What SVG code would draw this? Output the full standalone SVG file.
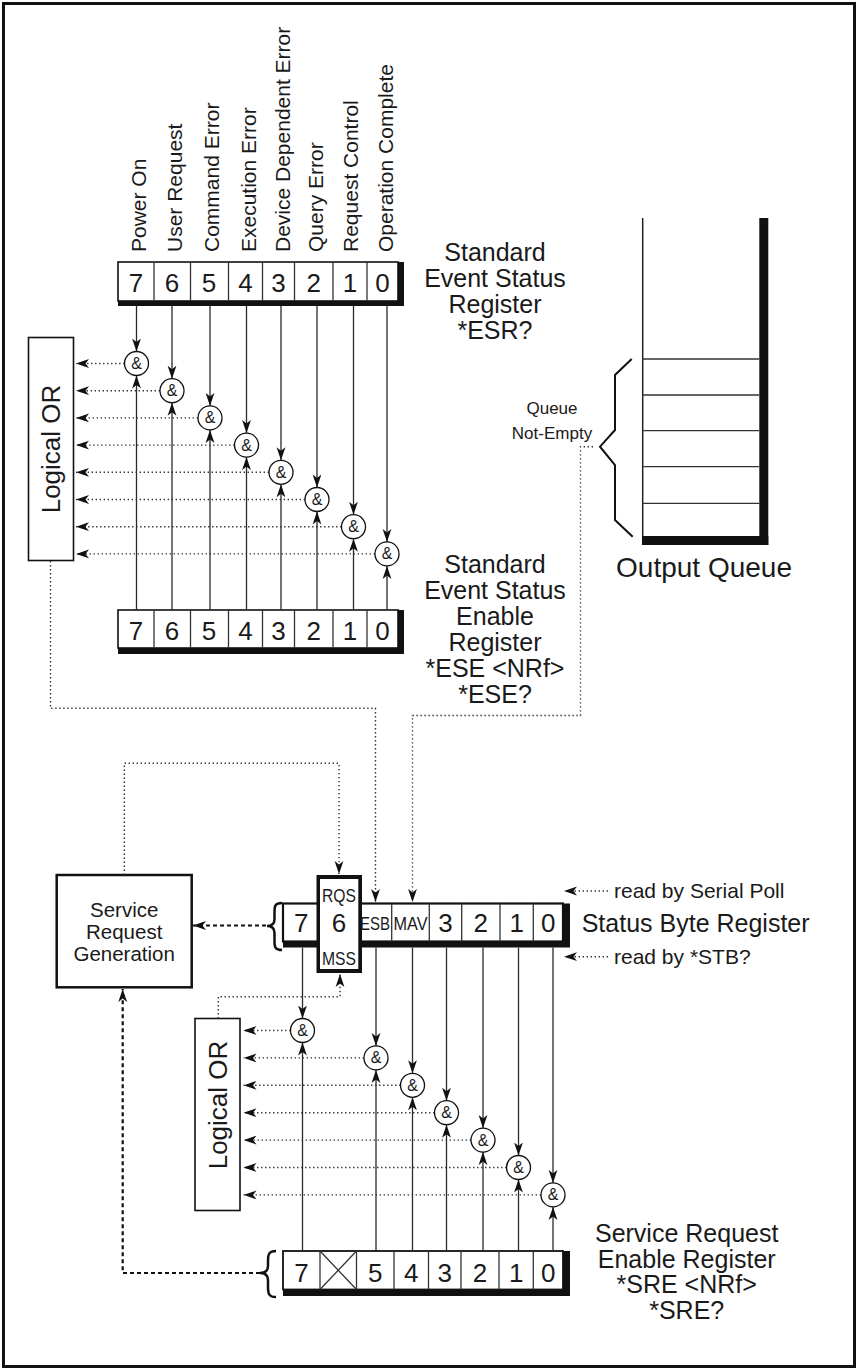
<svg xmlns="http://www.w3.org/2000/svg" width="858" height="1370" viewBox="0 0 858 1370">
<defs>
<marker id="ah" viewBox="0 0 13 10" refX="13" refY="5" markerWidth="13" markerHeight="10" markerUnits="userSpaceOnUse" orient="auto"><path d="M0,0.6 L13,5 L0,9.4 L3.5,5 z" fill="#111"/></marker>
<style>
text{font-family:"Liberation Sans",Arial,sans-serif;fill:#1a1a1a}
.ln{stroke:#2a2a2a;stroke-width:1.3;fill:none}
.dot{stroke:#333;stroke-width:1.4;stroke-dasharray:1.4 2.6;fill:none}
.dash{stroke:#111;stroke-width:2.2;stroke-dasharray:4 3;fill:none}
.box{fill:#fff;stroke:#111;stroke-width:1.6}
.cell{stroke:#333;stroke-width:1.3}
.gate circle{fill:#fff;stroke:#111;stroke-width:1.3}
.gate text{font-size:16px;text-anchor:middle}
.dig{font-size:26px;text-anchor:middle}
.lbl{font-size:21px}
.big{font-size:25px;text-anchor:middle}
.sm{font-size:18px;text-anchor:middle}
.brace{fill:none;stroke:#111;stroke-width:2.5}
</style>
</defs>
<rect x="3.5" y="3.5" width="851" height="1363" fill="none" stroke="#111" stroke-width="3"/>

<g id="bit-labels" class="lbl">
<text transform="translate(146,252) rotate(-90)">Power On</text>
<text transform="translate(181.5,252) rotate(-90)">User Request</text>
<text transform="translate(219,252) rotate(-90)">Command Error</text>
<text transform="translate(255.5,252) rotate(-90)">Execution Error</text>
<text transform="translate(289.5,252) rotate(-90)">Device Dependent Error</text>
<text transform="translate(323,252) rotate(-90)">Query Error</text>
<text transform="translate(358,252) rotate(-90)">Request Control</text>
<text transform="translate(393,252) rotate(-90)">Operation Complete</text>
</g>

<g id="esr">
<rect x="118" y="262" width="286" height="44" fill="#111"/>
<rect x="118" y="262" width="280" height="39" class="box"/>
<g class="cell">
<line x1="154" y1="262" x2="154" y2="301"/><line x1="190.5" y1="262" x2="190.5" y2="301"/><line x1="228.5" y1="262" x2="228.5" y2="301"/><line x1="262.5" y1="262" x2="262.5" y2="301"/><line x1="294.5" y1="262" x2="294.5" y2="301"/><line x1="333" y1="262" x2="333" y2="301"/><line x1="367" y1="262" x2="367" y2="301"/>
</g>
<g class="dig"><text x="136" y="292">7</text><text x="172" y="292">6</text><text x="209" y="292">5</text><text x="245.5" y="292">4</text><text x="278.5" y="292">3</text><text x="313.8" y="292">2</text><text x="350" y="292">1</text><text x="382.5" y="292">0</text></g>
</g>
<g id="esr-label" class="big">
<text x="495" y="261">Standard</text><text x="495" y="287">Event Status</text><text x="495" y="313">Register</text><text x="495" y="339">*ESR?</text>
</g>

<g id="or-upper">
<rect x="28.5" y="337.5" width="45" height="223" class="box" stroke-width="1.5"/>
<text transform="translate(59.5,449) rotate(-90)" style="font-size:26px;text-anchor:middle">Logical OR</text>
</g>

<g id="ese">
<rect x="118" y="610" width="286" height="44" fill="#111"/>
<rect x="118" y="610" width="280" height="38" class="box"/>
<g class="cell">
<line x1="154" y1="610" x2="154" y2="648"/><line x1="190.5" y1="610" x2="190.5" y2="648"/><line x1="228.5" y1="610" x2="228.5" y2="648"/><line x1="262.5" y1="610" x2="262.5" y2="648"/><line x1="294.5" y1="610" x2="294.5" y2="648"/><line x1="333" y1="610" x2="333" y2="648"/><line x1="367" y1="610" x2="367" y2="648"/>
</g>
<g class="dig"><text x="136" y="640">7</text><text x="172" y="640">6</text><text x="209" y="640">5</text><text x="245.5" y="640">4</text><text x="278.5" y="640">3</text><text x="313.8" y="640">2</text><text x="350" y="640">1</text><text x="382.5" y="640">0</text></g>
</g>
<g id="ese-label" class="big">
<text x="495" y="573">Standard</text><text x="495" y="599">Event Status</text><text x="495" y="625">Enable</text><text x="495" y="651">Register</text><text x="495" y="677">*ESE &lt;NRf&gt;</text><text x="495" y="703">*ESE?</text>
</g>

<g id="output-queue">
<line x1="642.7" y1="218" x2="642.7" y2="545" stroke="#222" stroke-width="1.5"/>
<rect x="759.3" y="218" width="9" height="327" fill="#111"/>
<rect x="642" y="536" width="126.3" height="9" fill="#111"/>
<g stroke="#333" stroke-width="1.3">
<line x1="642.7" y1="359" x2="759.3" y2="359"/><line x1="642.7" y1="395" x2="759.3" y2="395"/><line x1="642.7" y1="430.7" x2="759.3" y2="430.7"/><line x1="642.7" y1="466.7" x2="759.3" y2="466.7"/><line x1="642.7" y1="503.3" x2="759.3" y2="503.3"/>
</g>
<path d="M631.7,359 L615,375 L615,430 L600,446.7 L615,465 L615,520 L632.7,536.7" fill="none" stroke="#111" stroke-width="2"/>
<text x="704" y="577" style="font-size:28px;text-anchor:middle">Output Queue</text>
<text x="552" y="414" style="font-size:17px;text-anchor:middle">Queue</text>
<text x="552" y="439" style="font-size:17px;text-anchor:middle">Not-Empty</text>
</g>

<g id="srg">
<rect x="56.7" y="875" width="135" height="112.3" fill="#fff" stroke="#111" stroke-width="2.5"/>
<text x="124.2" y="917" style="font-size:20.5px;text-anchor:middle">Service</text>
<text x="124.2" y="939" style="font-size:20.5px;text-anchor:middle">Request</text>
<text x="124.2" y="961" style="font-size:20.5px;text-anchor:middle">Generation</text>
</g>

<g id="stb">
<path class="brace" d="M282,903 C275,903 274.5,906 274.5,912 L274.5,919 C274.5,924 272,926 267,926 C272,926 274.5,928 274.5,933 L274.5,941 C274.5,947 275,950 282,950"/>
<rect x="283" y="903.5" width="287" height="44" fill="#111"/>
<rect x="283" y="903.5" width="280" height="38" fill="#fff" stroke="#111" stroke-width="2.2"/>
<g class="cell">
<line x1="391.7" y1="903.5" x2="391.7" y2="941.5"/><line x1="429.3" y1="903.5" x2="429.3" y2="941.5"/><line x1="461.7" y1="903.5" x2="461.7" y2="941.5"/><line x1="500" y1="903.5" x2="500" y2="941.5"/><line x1="533.3" y1="903.5" x2="533.3" y2="941.5"/>
<line x1="358.3" y1="903.5" x2="358.3" y2="941.5"/>
</g>
<rect x="316.5" y="875" width="45.5" height="98" fill="#111"/>
<rect x="320" y="879" width="38.3" height="90" fill="#fff"/>
<text x="339" y="901.5" class="sm" textLength="34" lengthAdjust="spacingAndGlyphs">RQS</text>
<text x="339" y="964.5" class="sm" textLength="34" lengthAdjust="spacingAndGlyphs">MSS</text>
<g class="dig"><text x="301.3" y="932">7</text><text x="339" y="932">6</text><text x="445.5" y="932">3</text><text x="480.8" y="932">2</text><text x="516.7" y="932">1</text><text x="548.3" y="932">0</text></g>
<text x="375" y="929.5" class="sm" textLength="30" lengthAdjust="spacingAndGlyphs">ESB</text>
<text x="410.5" y="929.5" class="sm" textLength="34" lengthAdjust="spacingAndGlyphs">MAV</text>
</g>
<g id="stb-labels">
<text x="581.7" y="932" style="font-size:25px">Status Byte Register</text>
<text x="614" y="898" style="font-size:21px">read by Serial Poll</text>
<text x="614" y="964" style="font-size:21px">read by *STB?</text>
</g>

<g id="or-lower">
<rect x="195" y="1018.5" width="45" height="192" class="box" stroke-width="1.5"/>
<text transform="translate(226.5,1105) rotate(-90)" style="font-size:26px;text-anchor:middle">Logical OR</text>
</g>

<g id="sre">
<path class="brace" d="M276,1251 C269,1251 268,1254 268,1261 L268,1266 C268,1271 265.5,1273 260,1273 C265.5,1273 268,1275 268,1280 L268,1287 C268,1294 269,1297 276,1297"/>
<rect x="283" y="1251" width="287" height="45" fill="#111"/>
<rect x="283" y="1251" width="280" height="38.5" fill="#fff" stroke="#111" stroke-width="1.8"/>
<g class="cell">
<line x1="320" y1="1251" x2="320" y2="1289.5"/><line x1="356.5" y1="1251" x2="356.5" y2="1289.5"/><line x1="394" y1="1251" x2="394" y2="1289.5"/><line x1="428.5" y1="1251" x2="428.5" y2="1289.5"/><line x1="461" y1="1251" x2="461" y2="1289.5"/><line x1="499" y1="1251" x2="499" y2="1289.5"/><line x1="533.3" y1="1251" x2="533.3" y2="1289.5"/>
<line x1="320" y1="1251" x2="356.5" y2="1289.5"/><line x1="356.5" y1="1251" x2="320" y2="1289.5"/>
</g>
<g class="dig"><text x="301.5" y="1282">7</text><text x="375.2" y="1282">5</text><text x="411.3" y="1282">4</text><text x="444.7" y="1282">3</text><text x="480" y="1282">2</text><text x="516.2" y="1282">1</text><text x="548.3" y="1282">0</text></g>
</g>
<g id="sre-label" class="big">
<text x="686.7" y="1242">Service Request</text><text x="686.7" y="1267.5">Enable Register</text><text x="686.7" y="1293">*SRE &lt;NRf&gt;</text><text x="686.7" y="1318.5">*SRE?</text>
</g>

<g id="connectors">
<g class="ln" marker-end="url(#ah)">
<line x1="136.5" y1="306" x2="136.5" y2="351.5"/><line x1="172" y1="306" x2="172" y2="378.7"/><line x1="210" y1="306" x2="210" y2="405.9"/><line x1="246.5" y1="306" x2="246.5" y2="433.1"/><line x1="281" y1="306" x2="281" y2="460.3"/><line x1="317" y1="306" x2="317" y2="487.5"/><line x1="353.5" y1="306" x2="353.5" y2="514.7"/><line x1="387" y1="306" x2="387" y2="541.9"/>
<line x1="136.5" y1="610" x2="136.5" y2="375.5"/><line x1="172" y1="610" x2="172" y2="402.7"/><line x1="210" y1="610" x2="210" y2="429.9"/><line x1="246.5" y1="610" x2="246.5" y2="457.1"/><line x1="281" y1="610" x2="281" y2="484.3"/><line x1="317" y1="610" x2="317" y2="511.5"/><line x1="353.5" y1="610" x2="353.5" y2="538.7"/><line x1="387" y1="610" x2="387" y2="565.9"/>
</g>
<g class="dot" marker-end="url(#ah)">
<line x1="124.5" y1="363.5" x2="76" y2="363.5"/><line x1="160" y1="390.7" x2="76" y2="390.7"/><line x1="198" y1="417.9" x2="76" y2="417.9"/><line x1="234.5" y1="445.1" x2="76" y2="445.1"/><line x1="269" y1="472.3" x2="76" y2="472.3"/><line x1="305" y1="499.5" x2="76" y2="499.5"/><line x1="341.5" y1="526.7" x2="76" y2="526.7"/><line x1="375" y1="553.9" x2="76" y2="553.9"/>
</g>
<g class="ln" marker-end="url(#ah)">
<line x1="302.5" y1="947.5" x2="302.5" y2="1018.5"/><line x1="376" y1="947.5" x2="376" y2="1045.9"/><line x1="412.5" y1="947.5" x2="412.5" y2="1073.3"/><line x1="446.5" y1="947.5" x2="446.5" y2="1100.7"/><line x1="483" y1="947.5" x2="483" y2="1128.1"/><line x1="518.5" y1="947.5" x2="518.5" y2="1155.5"/><line x1="553" y1="947.5" x2="553" y2="1182.9"/>
<line x1="302.5" y1="1251" x2="302.5" y2="1042.5"/><line x1="376" y1="1251" x2="376" y2="1069.9"/><line x1="412.5" y1="1251" x2="412.5" y2="1097.3"/><line x1="446.5" y1="1251" x2="446.5" y2="1124.7"/><line x1="483" y1="1251" x2="483" y2="1152.1"/><line x1="518.5" y1="1251" x2="518.5" y2="1179.5"/><line x1="553" y1="1251" x2="553" y2="1206.9"/>
</g>
<g class="dot" marker-end="url(#ah)">
<line x1="290.5" y1="1030.5" x2="243.5" y2="1030.5"/><line x1="364" y1="1057.9" x2="243.5" y2="1057.9"/><line x1="400.5" y1="1085.3" x2="243.5" y2="1085.3"/><line x1="434.5" y1="1112.7" x2="243.5" y2="1112.7"/><line x1="471" y1="1140.1" x2="243.5" y2="1140.1"/><line x1="506.5" y1="1167.5" x2="243.5" y2="1167.5"/><line x1="541" y1="1194.9" x2="243.5" y2="1194.9"/>
</g>
<g class="dot" marker-end="url(#ah)">
<path d="M50.5,561 V708.3 H375.5 V902"/>
<path d="M593,446.7 H580.5 V715.5 H412.5 V902"/>
<path d="M124.3,875 V763.3 H339 V874"/>
<path d="M218.3,1018.5 V996.7 H340 V974"/>
<path d="M608,891 H564"/>
<path d="M608,956.7 H564"/>
</g>
<g class="dash" marker-end="url(#ah)">
<path d="M266,925.5 H193"/>
<path d="M260,1273 H122.7 V989"/>
</g>
</g>

<g id="gates-upper" class="gate">
<g id="g-esr7"><circle cx="136.5" cy="363.5" r="12"/><text x="136.5" y="369">&amp;</text></g>
<g id="g-esr6"><circle cx="172" cy="390.7" r="12"/><text x="172" y="396.2">&amp;</text></g>
<g id="g-esr5"><circle cx="210" cy="417.9" r="12"/><text x="210" y="423.4">&amp;</text></g>
<g id="g-esr4"><circle cx="246.5" cy="445.1" r="12"/><text x="246.5" y="450.6">&amp;</text></g>
<g id="g-esr3"><circle cx="281" cy="472.3" r="12"/><text x="281" y="477.8">&amp;</text></g>
<g id="g-esr2"><circle cx="317" cy="499.5" r="12"/><text x="317" y="505">&amp;</text></g>
<g id="g-esr1"><circle cx="353.5" cy="526.7" r="12"/><text x="353.5" y="532.2">&amp;</text></g>
<g id="g-esr0"><circle cx="387" cy="553.9" r="12"/><text x="387" y="559.4">&amp;</text></g>
</g>
<g id="gates-lower" class="gate">
<g id="g-stb7"><circle cx="302.5" cy="1030.5" r="12"/><text x="302.5" y="1036">&amp;</text></g>
<g id="g-stb5"><circle cx="376" cy="1057.9" r="12"/><text x="376" y="1063.4">&amp;</text></g>
<g id="g-stb4"><circle cx="412.5" cy="1085.3" r="12"/><text x="412.5" y="1090.8">&amp;</text></g>
<g id="g-stb3"><circle cx="446.5" cy="1112.7" r="12"/><text x="446.5" y="1118.2">&amp;</text></g>
<g id="g-stb2"><circle cx="483" cy="1140.1" r="12"/><text x="483" y="1145.6">&amp;</text></g>
<g id="g-stb1"><circle cx="518.5" cy="1167.5" r="12"/><text x="518.5" y="1173">&amp;</text></g>
<g id="g-stb0"><circle cx="553" cy="1194.9" r="12"/><text x="553" y="1200.4">&amp;</text></g>
</g>
</svg>
